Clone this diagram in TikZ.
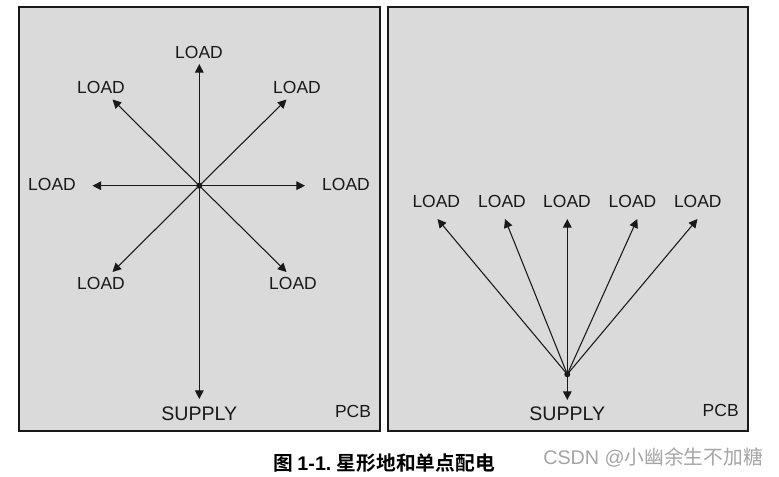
\documentclass[tikz,border=0pt]{standalone}
\usepackage{fontspec}
\setmainfont{Liberation Sans}
\newfontfamily\cjkfont{Noto Sans CJK SC}
\newfontfamily\cjkbold{Noto Sans CJK SC Bold}
\usetikzlibrary{arrows.meta}
\definecolor{panelbg}{RGB}{218,218,218}
\definecolor{ink}{RGB}{25,25,25}
\definecolor{wmgray}{RGB}{165,165,165}
\tikzset{
  panel/.style={draw=ink, line width=1.5pt, fill=panelbg},
  feed/.style={draw=ink, line width=0.8pt, -{Triangle[length=6.5pt,width=6.5pt]}},
  loadlbl/.style={font=\fontsize{13.1}{15}\selectfont, text=ink, inner sep=0pt},
  supplbl/.style={font=\fontsize{14.7}{17}\selectfont, text=ink, inner sep=0pt},
  pcblbl/.style={font=\fontsize{13.1}{15}\selectfont, text=ink, inner sep=0pt},
  hub/.style={circle, fill=ink, inner sep=0pt, minimum size=4.5pt}
}
\begin{document}
\begin{tikzpicture}[x=0.75pt,y=-0.75pt]
\useasboundingbox (0,0) rectangle (779,476);
\fill[white] (0,0) rectangle (779,476);
% panels
\draw[panel] (19,7) rectangle (380,431);
\draw[panel] (388,7) rectangle (748,431);

% ---- left: star ground ----
\coordinate (c1) at (199.3,185.7);
\coordinate (tN) at (199.3,64);
\coordinate (tS) at (199.3,399);
\coordinate (tW) at (92.5,185.7);
\coordinate (tE) at (305,185.7);
\coordinate (tNW) at (112.5,99.5);
\coordinate (tNE) at (286.5,99.5);
\coordinate (tSW) at (112.5,272);
\coordinate (tSE) at (286.5,272);
\foreach \t in {tN,tS,tW,tE,tNW,tNE,tSW,tSE}{
  \draw[feed] (c1) -- (\t);
}
\node[hub] (h1) at (c1) {};
\node[loadlbl] (lN) at (199,52) {LOAD};
\node[loadlbl] (lNW) at (101,87) {LOAD};
\node[loadlbl] (lNE) at (297,87) {LOAD};
\node[loadlbl] (lW) at (52,184.5) {LOAD};
\node[loadlbl] (lE) at (346,184.5) {LOAD};
\node[loadlbl] (lSW) at (101,283) {LOAD};
\node[loadlbl] (lSE) at (293,283) {LOAD};
\node[supplbl] (s1) at (199.3,413.5) {SUPPLY};
\node[pcblbl] (p1) at (353,411) {PCB};

% ---- right: single point ----
\coordinate (c2) at (567.3,374.3);
\coordinate (r1) at (437.5,219);
\coordinate (r2) at (505,219);
\coordinate (r3) at (567.3,219);
\coordinate (r4) at (637.3,219);
\coordinate (r5) at (697.5,219);
\coordinate (rS) at (567.3,400);
\foreach \t in {r1,r2,r3,r4,r5,rS}{
  \draw[feed] (c2) -- (\t);
}
\node[hub] (h2) at (c2) {};
\node[loadlbl] (q1) at (436.3,201.7) {LOAD};
\node[loadlbl] (q2) at (502,201.7) {LOAD};
\node[loadlbl] (q3) at (567,201.7) {LOAD};
\node[loadlbl] (q4) at (632.5,201.7) {LOAD};
\node[loadlbl] (q5) at (697.8,201.7) {LOAD};
\node[supplbl] (s2) at (567.3,413.5) {SUPPLY};
\node[pcblbl] (p2) at (720.7,410) {PCB};

% caption and watermark
\node[anchor=west, inner sep=0pt, text=black] (cap) at (273,463.5)
  {\fontsize{14.8}{17}\selectfont\cjkbold 图\ \fontspec{Liberation Sans Bold}1-1.\ \cjkbold 星形地和单点配电};
\node[anchor=west, inner sep=0pt, text=wmgray] (wm) at (543,457)
  {\fontsize{14.8}{17}\selectfont CSDN @\cjkfont 小幽余生不加糖};
\end{tikzpicture}
\end{document}
